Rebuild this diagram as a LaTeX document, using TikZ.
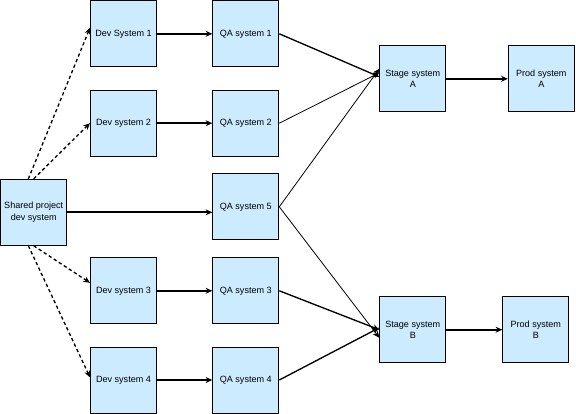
\documentclass[tikz,border=0pt]{standalone}
\usepackage{fontspec}
\setmainfont{Liberation Sans}
\usetikzlibrary{arrows.meta}

\definecolor{boxblue}{RGB}{204,235,255}
\tikzset{every picture/.style={line width=0.75pt}}
\tikzset{
  sysbox/.style={draw=black, fill=boxblue, line width=0.75pt, minimum width=49.5pt, minimum height=49.5pt,
    inner sep=0.75pt, align=center, font=\fontsize{6.8pt}{8.6pt}\selectfont},
  tip/.style={-{Stealth[length=5pt,width=4.5pt]}},
  thickflow/.style={tip, line width=1.5pt},
  midflow/.style={tip, line width=1pt},
  thinflow/.style={tip, line width=0.6pt},
  cloneflow/.style={tip, line width=1pt, dash pattern=on 2.5pt off 2pt}
}

\begin{document}
\begin{tikzpicture}[x=0.75pt,y=0.75pt,yscale=-1,xscale=1]
\useasboundingbox (0,0) rectangle (576,414);

% Nodes
\node [sysbox] (shared) at (33.7,212.3) {Shared project\\dev system};
\node [sysbox] (dev1) at (123.5,33.8) {Dev System 1};
\node [sysbox] (dev2) at (123.5,123.2) {Dev system 2};
\node [sysbox] (dev3) at (123.5,290.8) {Dev system 3};
\node [sysbox] (dev4) at (123.5,380) {Dev system 4};
\node [sysbox] (qa1) at (245.8,33.8) {QA system 1};
\node [sysbox] (qa2) at (245.8,123.2) {QA system 2};
\node [sysbox] (qa5) at (245.8,206.8) {QA system 5};
\node [sysbox] (qa3) at (245.8,290.8) {QA system 3};
\node [sysbox] (qa4) at (245.8,380) {QA system 4};
\node [sysbox] (stageA) at (412.8,78.8) {Stage system\\A};
\node [sysbox] (prodA) at (541.3,78.8) {Prod system\\A};
\node [sysbox] (stageB) at (412.8,329.7) {Stage system\\B};
\node [sysbox] (prodB) at (535.8,329.7) {Prod system\\B};

%Dashed Lines
\draw [cloneflow] ([xshift=-4pt]shared.north) -- ([yshift=-4.5pt]dev1.west);
\draw [cloneflow] (shared.north) -- (dev2.west);
\draw [cloneflow] (shared.south) -- ([yshift=-6pt]dev3.west);
\draw [cloneflow] ([xshift=-4pt]shared.south) -- ([yshift=-2pt]dev4.west);

%Straight Lines
\draw [thickflow] (dev1) -- (qa1);
\draw [thickflow] (dev2) -- (qa2);
\draw [thickflow] (shared.east) -- (shared.east -| qa5.west);
\draw [thickflow] (dev3) -- (qa3);
\draw [thickflow] (dev4) -- (qa4);
\draw [thickflow] (stageA) -- (prodA);
\draw [thickflow] (stageB) -- (prodB);

\draw [midflow] (qa1.east) -- ([yshift=-1.5pt]stageA.west);
\draw [thinflow] (qa2.east) -- ([yshift=-4.5pt]stageA.west);
\draw [thinflow] (qa5.east) -- ([yshift=-7.5pt]stageA.west);
\draw [thinflow] (qa5.east) -- ([yshift=6pt]stageB.west);
\draw [midflow] (qa3.east) -- ([yshift=0pt]stageB.west);
\draw [midflow] (qa4.east) -- ([yshift=-1.5pt]stageB.west);

\end{tikzpicture}
\end{document}
